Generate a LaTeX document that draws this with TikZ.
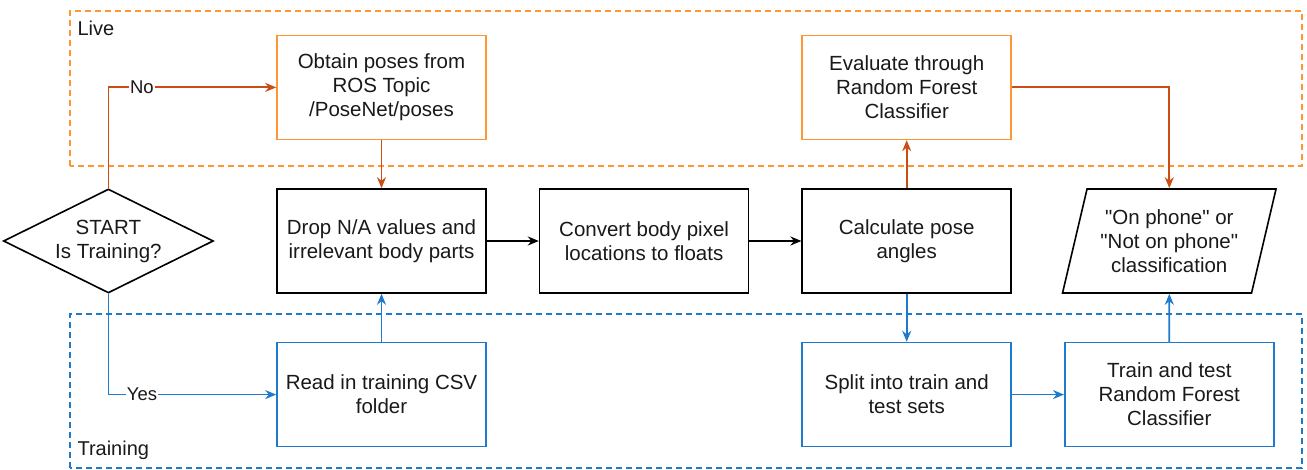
\documentclass[tikz,border=0pt]{standalone}
\usepackage{fontspec}
\setmainfont{Liberation Sans}
\usepackage{tikz}
\usetikzlibrary{positioning,shapes.geometric,arrows.meta}
\definecolor{liveorange}{RGB}{255,150,50}
\definecolor{livearrow}{RGB}{204,76,20}
\definecolor{trainblue}{RGB}{30,122,204}
\definecolor{textgray}{RGB}{25,25,25}

\begin{document}
\begin{tikzpicture}[x=1pt,y=1pt,
  >={Stealth[length=11pt,width=9pt]},
  stepbox/.style={draw, rectangle, line width=1.6pt, minimum width=209pt, minimum height=104pt,
    align=center, text=textgray, font=\fontsize{20.5}{24}\selectfont},
  livebox/.style={stepbox, draw=liveorange},
  trainbox/.style={stepbox, draw=trainblue},
  flow/.style={->, line width=1.8pt},
  branch/.style={fill=white, inner sep=1pt, text=textgray, font=\fontsize{18.5}{22}\selectfont}]
\useasboundingbox (0,0) rectangle (1307,470);
% group frames
\draw[liveorange, line width=1.4pt, dash pattern=on 6pt off 4pt] (70,304) rectangle (1302,459);
\draw[trainblue, line width=1.4pt, dash pattern=on 6pt off 4pt] (70,2) rectangle (1302,156);
\node[anchor=west, text=textgray, font=\fontsize{20}{24}\selectfont] (live) at (74,442) {Live};
\node[anchor=west, text=textgray, font=\fontsize{20}{24}\selectfont] (training) at (74,20) {Training};
% main row
\node[stepbox] (drop) at (381.5,229) {Drop N/A values and\\irrelevant body parts};
\node[stepbox, right=52pt of drop] (convert) {Convert body pixel\\locations to floats};
\node[stepbox, right=52pt of convert] (calc) {Calculate pose\\angles};
\node[draw, diamond, aspect=2, line width=1.6pt, minimum width=210pt, minimum height=104pt, inner sep=0pt,
  align=center, text=textgray, font=\fontsize{20.5}{24}\selectfont, left=62pt of drop] (start) {START\\Is Training?};
% live branch
\node[livebox, above=48pt of drop] (obtain) {Obtain poses from\\ROS Topic\\/PoseNet/poses};
\node[livebox, above=48pt of calc] (evaluate) {Evaluate through\\Random Forest\\Classifier};
% training branch
\node[trainbox, below=48pt of drop] (read) {Read in training CSV\\folder};
\node[trainbox, below=48pt of calc] (split) {Split into train and\\test sets};
\node[trainbox, right=52pt of split] (train) {Train and test\\Random Forest\\Classifier};
\node[draw, trapezium, trapezium left angle=72, trapezium right angle=108, trapezium stretches=true,
  line width=1.6pt, minimum width=214pt, minimum height=104pt, inner sep=0pt,
  align=center, text=textgray, font=\fontsize{20.5}{24}\selectfont, above=48pt of train] (result)
  {\textquotedbl On phone\textquotedbl{} or\\\textquotedbl Not on phone\textquotedbl\\classification};
% connectors
\draw[flow] (drop) -- (convert);
\draw[flow] (convert) -- (calc);
\draw[flow, livearrow] (start) |- node[branch, pos=0.6] {No} (obtain);
\draw[flow, livearrow] (obtain) -- (drop);
\draw[flow, livearrow] (calc) -- (evaluate);
\draw[flow, livearrow] (evaluate) -| (result);
\draw[flow, trainblue] (start) |- node[branch, pos=0.6] {Yes} (read);
\draw[flow, trainblue] (read) -- (drop);
\draw[flow, trainblue] (calc) -- (split);
\draw[flow, trainblue] (split) -- (train);
\draw[flow, trainblue] (train) -- (result);
\end{tikzpicture}
\end{document}
